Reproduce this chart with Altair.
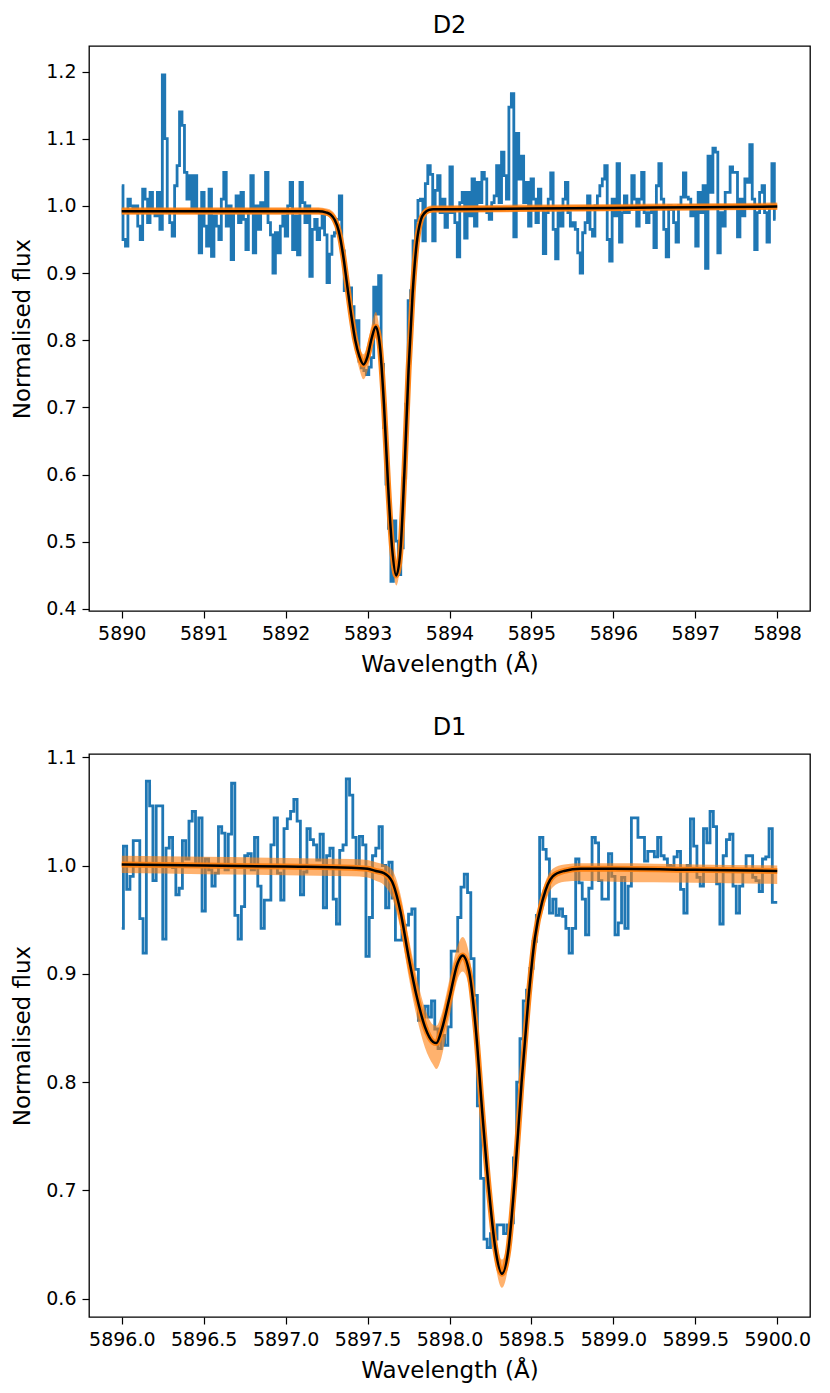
import altair as alt
import pandas as pd

# ---------------- D2 panel data ----------------
top_start = 5890.0
top_step = 0.03
flux_top = [
    1.03, 0.95, 0.94, 1.01, 1.00, 0.99, 1.00, 0.97, 0.95, 1.025,
    1.01, 0.975, 1.02, 0.99, 0.985, 1.02, 0.965, 1.195, 1.10, 0.99,
    0.975, 0.955, 1.03, 1.06, 1.14, 1.12, 1.05, 1.01, 1.045, 0.995,
    1.045, 0.99, 0.93, 1.02, 0.97, 0.94, 1.025, 0.925, 0.985, 0.97,
    0.95, 1.01, 1.05, 0.97, 1.00, 0.92, 0.99, 1.015, 0.975, 1.02,
    0.98, 0.935, 0.99, 1.045, 0.93, 1.00, 0.965, 1.005, 0.99,
    1.05, 0.975, 0.957, 0.90, 0.96, 0.93, 0.97, 0.985, 0.955, 1.00,
    1.035, 0.935, 0.985, 0.927, 1.035, 1.005, 0.975, 1.00, 0.895, 0.965,
    0.98, 0.95, 0.967, 0.985, 0.957, 0.886, 0.928, 0.955, 0.96, 0.98,
    1.015, 0.933, 0.874, 0.878, 0.878, 0.85, 0.804, 0.829, 0.769, 0.759,
    0.755, 0.749, 0.76, 0.774, 0.879, 0.839, 0.896, 0.764, 0.67, 0.586,
    0.52, 0.441, 0.531, 0.501, 0.451, 0.491, 0.595, 0.705, 0.859, 0.874,
    0.948, 0.978, 1.008, 1.01, 0.948, 1.033, 1.06, 1.047, 0.948, 1.023,
    1.045, 0.99, 1.01, 0.968, 0.99, 1.058, 0.99, 0.975, 0.924, 1.005,
    1.02, 0.952, 1.02, 0.985, 1.04, 0.97, 1.035, 1.005, 1.05, 1.04,
    0.99, 0.98, 1.005, 1.015, 1.06, 1.005, 1.08, 1.045, 1.01, 1.147,
    1.167, 0.954, 1.108, 1.04, 1.074, 1.005, 1.035, 0.97, 1.04, 1.01,
    0.975, 1.025, 0.995, 0.929, 0.99, 1.01, 1.049, 0.965, 0.921, 0.99,
    0.97, 1.01, 1.035, 0.99, 0.97, 0.975, 0.965, 0.93, 0.90, 0.96,
    0.975, 1.015, 0.965, 0.955, 1.0, 1.015, 1.03, 1.04,
    1.06, 0.95, 0.918, 1.01, 0.985, 1.063, 0.946, 0.99, 1.015, 0.99,
    0.995, 1.045, 1.01, 0.97, 1.01, 1.05, 0.99, 0.975, 0.99, 0.995,
    0.938, 1.03, 1.063, 1.01, 0.965, 0.924, 1.00, 0.995, 0.975, 0.946,
    1.00, 1.013, 1.049, 1.013, 1.01, 0.985, 1.0, 0.94, 1.02, 0.99,
    1.03, 0.907, 1.074, 1.02, 1.086, 1.08, 0.93, 0.99, 0.97, 1.02,
    1.02, 1.058, 1.05, 1.05, 0.954, 1.01, 0.985, 1.04, 1.035, 1.091,
    1.01, 0.935, 0.99, 1.02, 1.03, 0.99, 0.946, 1.00, 1.063, 0.98,
]
wl_model_top = [5890.0, 5891.0, 5892.0, 5892.4, 5892.5, 5892.55, 5892.6, 5892.65,
                5892.7, 5892.75, 5892.8, 5892.85, 5892.9, 5892.95, 5893.0, 5893.05,
                5893.1, 5893.15, 5893.2, 5893.25, 5893.3, 5893.35, 5893.4, 5893.45,
                5893.5, 5893.55, 5893.6, 5893.65, 5893.7, 5893.75, 5893.8, 5894.0,
                5895.0, 5896.0, 5897.0, 5898.0]
model_top = [0.992, 0.992, 0.992, 0.992, 0.990, 0.987, 0.979, 0.962,
             0.928, 0.883, 0.838, 0.800, 0.776, 0.764, 0.776, 0.803,
             0.820, 0.792, 0.705, 0.585, 0.490, 0.450, 0.485, 0.605,
             0.755, 0.870, 0.945, 0.979, 0.990, 0.994, 0.995, 0.995,
             0.996, 0.997, 0.998, 0.999]
lower_top = [0.987, 0.987, 0.987, 0.987, 0.985, 0.981, 0.970, 0.950,
             0.913, 0.866, 0.821, 0.783, 0.757, 0.742, 0.755, 0.785,
             0.803, 0.776, 0.690, 0.570, 0.475, 0.435, 0.470, 0.590,
             0.740, 0.857, 0.935, 0.972, 0.985, 0.989, 0.990, 0.990,
             0.991, 0.992, 0.993, 0.994]
upper_top = [0.998, 0.998, 0.998, 0.998, 0.996, 0.994, 0.988, 0.974,
             0.942, 0.899, 0.854, 0.815, 0.791, 0.779, 0.795, 0.823,
             0.842, 0.810, 0.720, 0.600, 0.505, 0.463, 0.498, 0.620,
             0.770, 0.882, 0.954, 0.986, 0.996, 1.000, 1.001, 1.001,
             1.002, 1.003, 1.004, 1.005]
xticks_top = [5890, 5891, 5892, 5893, 5894, 5895, 5896, 5897, 5898]
yticks_top = [0.4, 0.5, 0.6, 0.7, 0.8, 0.9, 1.0, 1.1, 1.2]

# ---------------- D1 panel data ----------------
bot_start = 5896.0
bot_step = 0.02
flux_bot = [
    0.942, 1.018, 0.978, 0.99, 1.023, 1.023, 0.951, 0.919, 1.078, 1.055,
    0.986, 1.055, 1.055, 0.932, 1.016, 1.026, 0.998, 0.973, 0.979, 1.023,
    1.006, 1.041, 1.05, 1.0, 1.044, 0.958, 1.006, 0.996, 0.981, 0.993,
    1.036, 1.03, 0.996, 1.029, 1.076, 0.954, 0.932, 0.962, 1.009, 1.011,
    0.996, 1.026, 0.981, 0.942,
    0.968, 0.968, 1.019, 1.044, 0.993, 0.968, 1.034, 1.043, 1.05, 1.061,
    1.041, 0.973, 0.994, 1.034, 1.024, 1.019, 1.005, 1.029, 0.961, 1.009,
    1.016, 0.969, 0.946, 1.014, 1.019, 1.08, 1.065, 1.026, 0.999, 1.027,
    1.019, 0.916, 0.952, 1.009, 1.016, 1.036,
    1.0, 0.961, 1.003, 0.97, 0.931, 0.931, 0.94, 0.945, 0.955, 0.96,
    0.904, 0.857, 0.86, 0.87, 0.86, 0.875, 0.849, 0.831, 0.843, 0.834,
    0.851, 0.921, 0.921, 0.952, 0.98, 0.992, 0.975, 0.914, 0.88, 0.778,
    0.711, 0.655, 0.647, 0.66, 0.655, 0.668, 0.668, 0.66, 0.668, 0.67,
    0.73, 0.80, 0.84, 0.875, 0.885, 0.905, 0.93, 0.954, 1.026, 1.015,
    1.006, 0.956, 0.969,
    0.954, 0.96, 0.953, 0.942, 0.919, 0.942, 1.006, 0.984, 0.969, 0.936,
    0.979, 1.026, 1.021, 0.986, 0.969, 0.969, 1.011, 0.99, 0.936, 0.947,
    0.989, 0.942, 0.981, 1.044, 1.044, 1.026, 1.026, 1.004, 1.013, 1.013,
    1.008, 1.026, 1.009, 1.006, 1.0, 0.999, 1.008, 1.013, 0.978, 0.956,
    1.0, 1.043, 1.018, 0.989, 0.981, 1.034, 1.021, 1.05, 1.036, 0.983,
    0.946, 1.009, 1.024, 1.029, 0.981, 0.956, 0.981, 0.996, 1.009, 1.009,
    0.989, 0.986, 0.976, 1.006, 1.008, 1.034, 0.966, 0.966,
]
wl_model_bot = [5896.0, 5896.5, 5897.0, 5897.4, 5897.5, 5897.55, 5897.6, 5897.65,
                5897.7, 5897.75, 5897.8, 5897.85, 5897.9, 5897.92, 5897.95, 5898.0,
                5898.05, 5898.08, 5898.12, 5898.16, 5898.2, 5898.24, 5898.28, 5898.32,
                5898.36, 5898.4, 5898.44, 5898.48, 5898.52, 5898.57, 5898.63, 5898.7,
                5898.8, 5899.0, 5899.5, 5900.0]
model_bot = [1.001, 1.000, 0.999, 0.998, 0.997, 0.995, 0.993, 0.985,
             0.958, 0.916, 0.879, 0.851, 0.837, 0.836, 0.847, 0.878,
             0.910, 0.917, 0.902, 0.850, 0.772, 0.701, 0.646, 0.623,
             0.646, 0.714, 0.800, 0.874, 0.932, 0.969, 0.990, 0.995,
             0.997, 0.997, 0.996, 0.995]
lower_bot = [0.993, 0.992, 0.991, 0.990, 0.989, 0.986, 0.982, 0.970,
             0.942, 0.898, 0.860, 0.832, 0.816, 0.812, 0.822, 0.860,
             0.895, 0.902, 0.887, 0.835, 0.758, 0.688, 0.632, 0.610,
             0.632, 0.700, 0.787, 0.862, 0.921, 0.958, 0.980, 0.985,
             0.986, 0.985, 0.984, 0.983]
upper_bot = [1.009, 1.008, 1.007, 1.006, 1.005, 1.003, 1.001, 0.996,
             0.974, 0.934, 0.897, 0.868, 0.853, 0.852, 0.862, 0.895,
             0.926, 0.934, 0.918, 0.865, 0.787, 0.715, 0.660, 0.636,
             0.660, 0.728, 0.815, 0.888, 0.943, 0.978, 0.997, 1.001,
             1.002, 1.002, 1.001, 1.000]
xticks_bot = [5896.0, 5896.5, 5897.0, 5897.5, 5898.0, 5898.5, 5899.0, 5899.5, 5900.0]
yticks_bot = [0.6, 0.7, 0.8, 0.9, 1.0, 1.1]

BLUE = "#1f77b4"
ORANGE = "#ff7f0e"


def panel(start, step, flux, wl_m, model, lower, upper, xdom, ydom,
          xticks, yticks, xfmt, title, h):
    spec = pd.DataFrame({"wl": [round(start + step * i, 4) for i in range(len(flux))],
                         "f": flux})
    mod = pd.DataFrame({"wl": wl_m, "f": model, "lo": lower, "hi": upper})
    xs = alt.Scale(domain=xdom, nice=False, zero=False)
    ys = alt.Scale(domain=ydom, nice=False, zero=False)
    xa = alt.Axis(values=xticks, format=xfmt, title="Wavelength (Å)")
    ya = alt.Axis(values=yticks, format=".1f", title="Normalised flux")
    x = alt.X("wl:Q", scale=xs, axis=xa)
    blue = alt.Chart(spec).mark_line(interpolate="step", color=BLUE, strokeWidth=2.8).encode(
        x=x, y=alt.Y("f:Q", scale=ys, axis=ya))
    band = alt.Chart(mod).mark_area(interpolate="monotone", color=ORANGE, opacity=0.6).encode(
        x=x, y=alt.Y("lo:Q", scale=ys, axis=ya), y2="hi:Q")
    oline = alt.Chart(mod).mark_line(interpolate="monotone", color=ORANGE, strokeWidth=6,
                                     opacity=0.95).encode(
        x=x, y=alt.Y("f:Q", scale=ys, axis=ya))
    black = alt.Chart(mod).mark_line(interpolate="monotone", color="black", strokeWidth=2.5).encode(
        x=x, y=alt.Y("f:Q", scale=ys, axis=ya))
    return alt.layer(blue, band, oline, black).properties(
        width=721, height=h, title=alt.TitleParams(title))


top = panel(top_start, top_step, flux_top, wl_model_top, model_top, lower_top, upper_top,
            [5889.6, 5898.4], [0.397, 1.238], xticks_top, yticks_top, "d", "D2", 565)
bot = panel(bot_start, bot_step, flux_bot, wl_model_bot, model_bot, lower_bot, upper_bot,
            [5895.8, 5900.2], [0.583, 1.103], xticks_bot, yticks_bot, ".1f", "D1", 563)

chart = alt.vconcat(top, bot, spacing=38).properties(
    padding={"left": 3, "top": 5, "right": 5, "bottom": 5}
).configure_view(
    stroke="black", strokeWidth=1.3
).configure_axis(
    grid=False, domain=False, tickColor="black", tickSize=7, tickWidth=1.2,
    labelColor="black", labelFont="DejaVu Sans", labelFontSize=19, labelPadding=6,
    titleFont="DejaVu Sans", titleFontSize=23, titleFontWeight="normal", titleColor="black"
).configure_axisY(
    titlePadding=11
).configure_axisX(
    titlePadding=10, labelFlush=False
).configure_title(
    font="DejaVu Sans", fontSize=24, fontWeight="normal", color="black", offset=8
)

chart.save("out.html", embed_options={"renderer": "svg", "actions": False})
